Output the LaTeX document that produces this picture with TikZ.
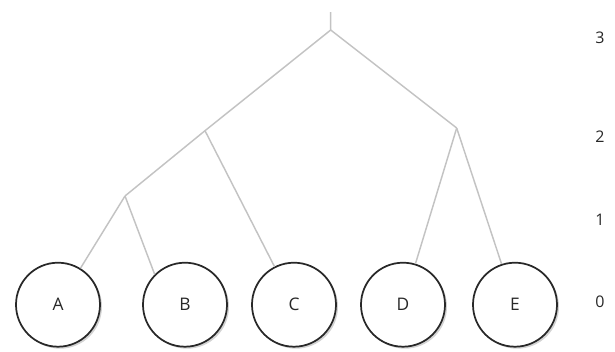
\documentclass[tikz,border=0pt]{standalone}
\usepackage{fontspec}
\setmainfont{Open Sans}
\usetikzlibrary{shadows}
\definecolor{branchgray}{RGB}{195,195,195}
\definecolor{inkgray}{RGB}{40,40,40}
\begin{document}
\begin{tikzpicture}[x=0.75pt,y=0.75pt,yscale=-1,xscale=1,
	leaf/.style={circle,draw=inkgray,line width=1.3pt,fill=white,minimum size=63pt,inner sep=0pt,text=inkgray,font=\fontsize{13}{15}\selectfont,drop shadow={shadow xshift=1.5pt,shadow yshift=-1.5pt,opacity=0.35}},
	branch/.style={draw=branchgray,line width=1.1pt},
	level/.style={inner sep=0.75pt,text=inkgray,font=\fontsize{12}{14}\selectfont}]
				\useasboundingbox (0,0) rectangle (615,351);

				%Leaves
				\node [leaf] (A) at (58,304.7) {A};
				\node [leaf] (B) at (185,304.7) {B};
				\node [leaf] (C) at (294,304.7) {C};
				\node [leaf] (D) at (403,304.7) {D};
				\node [leaf] (E) at (515,304.7) {E};

				%Merge points
				\coordinate (top) at (330.7,12);
				\coordinate (m3) at (330.7,30);
				\coordinate (m2r) at (456.7,128);
				\coordinate (m2l) at (205,130.7);
				\coordinate (m1) at (125,196);

				%Straight Lines
				\draw [branch] (top) -- (m3) -- (m2l) -- (m1);
				\draw [branch] (m3) -- (m2r);
				\draw [branch] (m1) -- (A);
				\draw [branch] (m1) -- (B.135);
				\draw [branch] (m2l) -- (C);
				\draw [branch] (m2r) -- (D);
				\draw [branch] (m2r) -- (E);

				% Text Node
				\node [level] (lv3) at (600,38) {3};
				% Text Node
				\node [level] (lv2) at (600,137) {2};
				% Text Node
				\node [level] (lv1) at (600,220) {1};
				% Text Node
				\node [level] (lv0) at (600,302) {0};
			\end{tikzpicture}
\end{document}
